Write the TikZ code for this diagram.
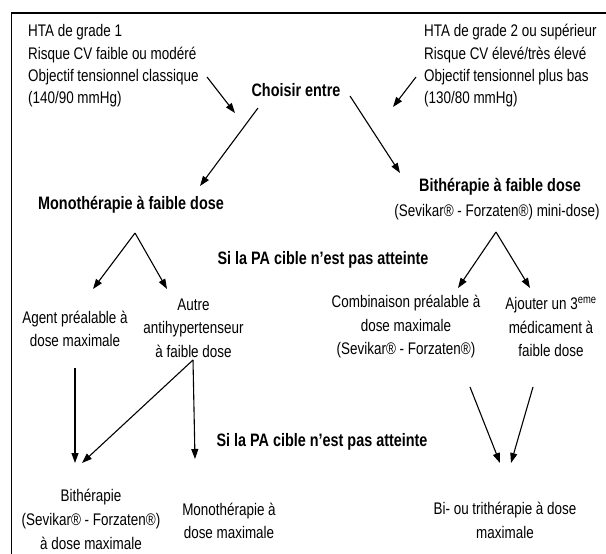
\documentclass[tikz,border=0pt]{standalone}
\usepackage{fontspec}
\setmainfont{Liberation Sans}[FakeStretch=0.8]
\usetikzlibrary{arrows.meta}
\begin{document}
\begin{tikzpicture}[x=1pt,y=-1pt,
  txt/.style={inner sep=0pt,font=\fontsize{16.8}{23.5}\selectfont,align=center},
  txtl/.style={inner sep=0pt,font=\fontsize{16.8}{22.3}\selectfont,align=left},
  bld/.style={inner sep=0pt,font=\fontsize{18}{22}\selectfont\bfseries},
  arr/.style={line width=1.1pt,-{Triangle[length=10pt,width=7pt]}},
  frame/.style={line width=1.8pt}]
\useasboundingbox (0,0) rectangle (606,554);
\fill[white] (0,0) rectangle (606,554);
\draw[frame] (11.5,554) -- (11.5,12.7) -- (606,12.7);
% nodes
\node[txtl,anchor=west] (tl) at (28,66) {HTA de grade 1\\Risque CV faible ou modéré\\Objectif tensionnel classique\\(140/90 mmHg)};
\node[txtl,anchor=west] (tr) at (424,66) {HTA de grade 2 ou supérieur\\Risque CV élevé/très élevé\\Objectif tensionnel plus bas\\(130/80 mmHg)};
\node[bld] (choisir) at (296,90) {Choisir entre};
\node[bld] (mono) at (131,205) {Monothérapie à faible dose};
\node[bld] (bith) at (500,187) {Bithérapie à faible dose};
\node[txt] (bithsub) at (497,212) {(Sevikar® - Forzaten®) mini-dose)};
\node[bld] (si1) at (323,260) {Si la PA cible n’est pas atteinte};
\node[txt] (agent) at (75,329) {Agent préalable à\\dose maximale};
\node[txt] (autre) at (193.5,328) {Autre\\antihypertenseur\\à faible dose};
\node[txt] (comb) at (406,327) {Combinaison préalable à\\dose maximale\\(Sevikar® - Forzaten®)};
\node[txt] (ajout) at (551,327) {Ajouter un 3\textsuperscript{eme}\\médicament à\\faible dose};
\node[bld] (si2) at (322,442) {Si la PA cible n’est pas atteinte};
\node[txt,font=\fontsize{16.8}{24}\selectfont] (bithmax) at (91,519) {Bithérapie\\(Sevikar® - Forzaten®)\\à dose maximale};
\node[txt,font=\fontsize{16.8}{22.5}\selectfont] (monomax) at (229,521) {Monothérapie à\\dose maximale};
\node[txt,font=\fontsize{16.8}{24}\selectfont] (bitri) at (505,520) {Bi- ou trithérapie à dose\\maximale};
% connector end points
\coordinate (tlA) at (207,77);  \coordinate (chL) at (235,113);
\coordinate (trA) at (416,77);  \coordinate (chR) at (393,107);
\coordinate (chM) at (258,108); \coordinate (monoT) at (200,186);
\coordinate (chB) at (350,96); \coordinate (bithT) at (400,173);
\coordinate (monoB) at (135,233); \coordinate (agentT) at (93,289); \coordinate (autreT) at (167,289);
\coordinate (bithB) at (496,232); \coordinate (combT) at (458,288); \coordinate (ajoutT) at (530,288);
\coordinate (agentB) at (75,368); \coordinate (bmT1) at (75,463);
\coordinate (autreB) at (193,360); \coordinate (bmT2) at (82,463); \coordinate (mmT) at (195,459);
\coordinate (combB) at (470,387); \coordinate (btT1) at (500,463);
\coordinate (ajoutB) at (533,387); \coordinate (btT2) at (511,463);
% connectors
\draw[arr] (tlA) -- (chL);
\draw[arr] (trA) -- (chR);
\draw[arr] (chM) -- (monoT);
\draw[arr] (chB) -- (bithT);
\draw[arr] (monoB) -- (agentT);
\draw[arr] (monoB) -- (autreT);
\draw[arr] (bithB) -- (combT);
\draw[arr] (bithB) -- (ajoutT);
\draw[arr] (agentB) -- (bmT1);
\draw[arr] (autreB) -- (bmT2);
\draw[arr] (autreB) -- (mmT);
\draw[arr] (combB) -- (btT1);
\draw[arr] (ajoutB) -- (btT2);
\end{tikzpicture}
\end{document}
